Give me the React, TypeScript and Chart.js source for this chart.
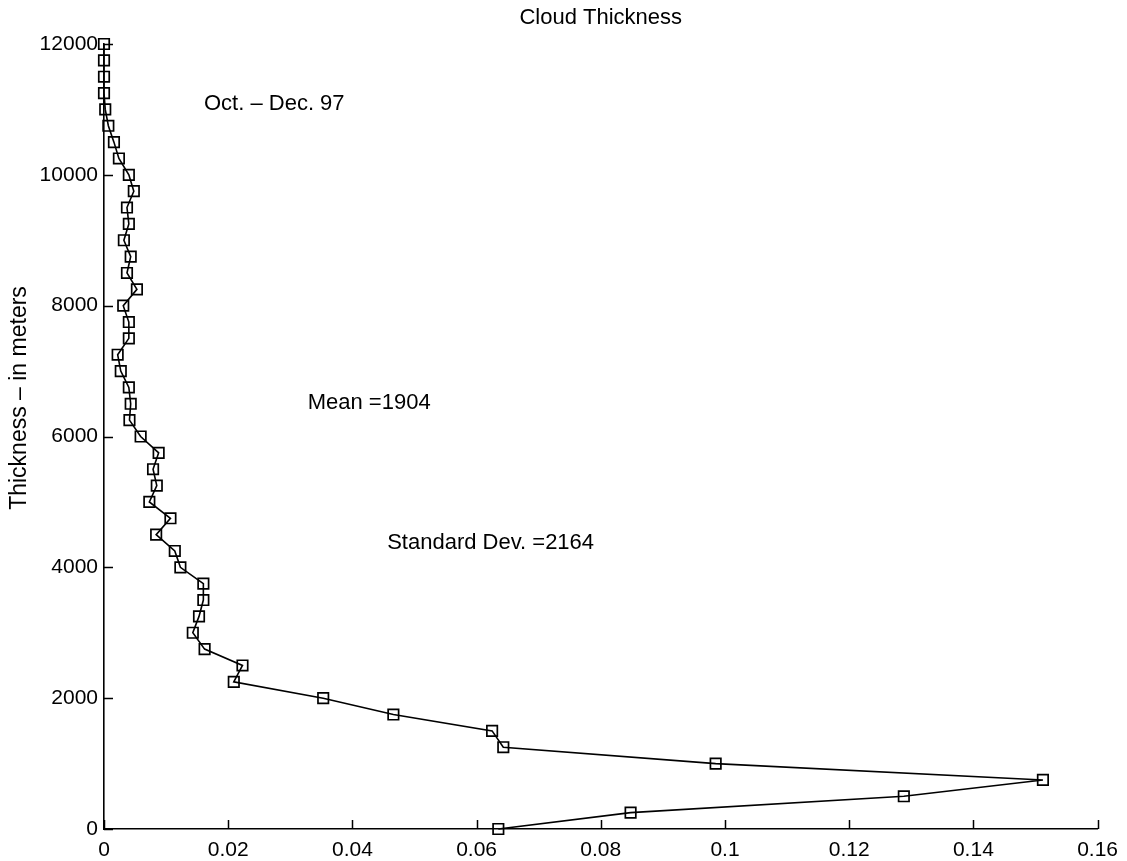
import React, { useEffect, useRef } from 'react';
import { Chart, registerables } from 'chart.js';

Chart.register(...registerables);

// Cloud thickness levels (m)
const heights = [
  0, 250, 500, 750, 1000, 1250, 1500, 1750, 2000, 2250, 2500, 2750, 3000,
  3250, 3500, 3750, 4000, 4250, 4500, 4750, 5000, 5250, 5500, 5750, 6000,
  6250, 6500, 6750, 7000, 7250, 7500, 7750, 8000, 8250, 8500, 8750, 9000,
  9250, 9500, 9750, 10000, 10250, 10500, 10750, 11000, 11250, 11500, 11750, 12000,
];

// Relative frequency at each level
const frequency = [
  0.0635, 0.0848, 0.1288, 0.1512, 0.0985, 0.0643, 0.0625, 0.0466, 0.0353, 0.0209, 0.0223, 0.0162, 0.0143,
  0.0153, 0.0160, 0.0160, 0.0123, 0.0114, 0.0084, 0.0107, 0.0073, 0.0085, 0.0079, 0.0088, 0.0059,
  0.0041, 0.0043, 0.0040, 0.0027, 0.0022, 0.0040, 0.0040, 0.0031, 0.0053, 0.0037, 0.0043, 0.0032,
  0.0040, 0.0037, 0.0048, 0.0040, 0.0024, 0.0016, 0.0007, 0.0002, 0.0, 0.0, 0.0, 0.0,
];

const xTicks = [0, 0.02, 0.04, 0.06, 0.08, 0.1, 0.12, 0.14, 0.16];
const xTickLabels = ['0', '0.02', '0.04', '0.06', '0.08', '0.1', '0.12', '0.14', '0.16'];
const yTicks = [0, 2000, 4000, 6000, 8000, 10000, 12000];
const yTickLabels = ['0', '2000', '4000', '6000', '8000', '10000', '12000'];

const chartTitle = 'Cloud Thickness';
const yAxisTitle = 'Thickness \u2013 in meters';
const noteTexts = ['Oct. \u2013 Dec. 97', 'Mean =1904', 'Standard Dev. =2164'];

const FONT = '"Liberation Sans", Arial, Helvetica, sans-serif';

export default function App() {
  const canvasRef = useRef<HTMLCanvasElement | null>(null);

  useEffect(() => {
    document.body.style.margin = '0';
    const canvas = canvasRef.current;
    if (!canvas) return;

    const notePositions = [
      { x: 0.0161, y: 11080 },
      { x: 0.0328, y: 6512 },
      { x: 0.0456, y: 4372 },
    ];

    const decor = {
      id: 'decor',
      afterDraw(chart: any) {
        const ctx = chart.ctx as CanvasRenderingContext2D;
        const xs = chart.scales.x;
        const ys = chart.scales.y;
        const area = chart.chartArea;
        ctx.save();
        // inward ticks
        ctx.strokeStyle = '#000';
        ctx.lineWidth = 1.5;
        ctx.beginPath();
        xTicks.forEach((v) => {
          const px = Math.round(xs.getPixelForValue(v)) + 0.5;
          ctx.moveTo(px, area.bottom);
          ctx.lineTo(px, area.bottom - 9);
        });
        yTicks.forEach((v) => {
          const py = Math.round(ys.getPixelForValue(v)) + 0.5;
          ctx.moveTo(area.left, py);
          ctx.lineTo(area.left + 9, py);
        });
        ctx.stroke();

        ctx.fillStyle = '#000';
        // title
        ctx.font = `22px ${FONT}`;
        ctx.textAlign = 'center';
        ctx.textBaseline = 'middle';
        ctx.fillText(chartTitle, (area.left + area.right) / 2, 18);

        // y axis title
        ctx.save();
        ctx.translate(20, 398);
        ctx.rotate(-Math.PI / 2);
        ctx.font = `23px ${FONT}`;
        ctx.fillText(yAxisTitle, 0, 0);
        ctx.restore();

        // notes
        ctx.font = `22px ${FONT}`;
        ctx.textAlign = 'left';
        ctx.textBaseline = 'middle';
        noteTexts.forEach((t, i) => {
          const p = notePositions[i];
          ctx.fillText(t, xs.getPixelForValue(p.x), ys.getPixelForValue(p.y));
        });
        ctx.restore();
      },
    };

    const chart = new Chart(canvas, {
      type: 'line',
      data: {
        datasets: [
          {
            data: heights.map((h, i) => ({ x: frequency[i], y: h })),
            borderColor: '#000',
            borderWidth: 1.6,
            pointStyle: 'rect',
            pointRadius: 7.4,
            pointHoverRadius: 7.4,
            pointBorderWidth: 1.7,
            pointBorderColor: '#000',
            pointBackgroundColor: 'rgba(0,0,0,0)',
            fill: false,
            tension: 0,
            clip: false as any,
          },
        ],
      },
      options: {
        responsive: false,
        animation: false,
        events: [],
        layout: { padding: { top: 44, right: 27, left: 0, bottom: 0 } },
        plugins: {
          legend: { display: false },
          title: { display: false },
          tooltip: { enabled: false },
        },
        scales: {
          x: {
            type: 'linear',
            min: 0,
            max: 0.16,
            afterBuildTicks: (s: any) => {
              s.ticks = xTicks.map((v) => ({ value: v }));
            },
            afterFit: (s: any) => {
              s.height = 32;
            },
            grid: { display: false, drawTicks: false },
            border: { display: true, color: '#000', width: 1.6 },
            ticks: {
              color: '#000',
              padding: 9,
              maxRotation: 0,
              autoSkip: false,
              font: { family: FONT, size: 21 },
              callback: (v: any) => {
                const i = xTicks.findIndex((t) => Math.abs(t - Number(v)) < 1e-9);
                return i >= 0 ? xTickLabels[i] : '';
              },
            },
          },
          y: {
            type: 'linear',
            min: 0,
            max: 12000,
            afterBuildTicks: (s: any) => {
              s.ticks = yTicks.map((v) => ({ value: v }));
            },
            afterFit: (s: any) => {
              s.width = 104;
            },
            grid: { display: false, drawTicks: false },
            border: { display: true, color: '#000', width: 1.6 },
            ticks: {
              color: '#000',
              padding: 6,
              autoSkip: false,
              font: { family: FONT, size: 21 },
              callback: (v: any) => {
                const i = yTicks.indexOf(Number(v));
                return i >= 0 ? yTickLabels[i] : '';
              },
            },
          },
        },
      },
      plugins: [decor],
    });

    return () => chart.destroy();
  }, []);

  return (
    <div style={{ width: 1127, height: 861, background: '#fff' }}>
      <canvas ref={canvasRef} width={1127} height={861} style={{ display: 'block' }} />
    </div>
  );
}
